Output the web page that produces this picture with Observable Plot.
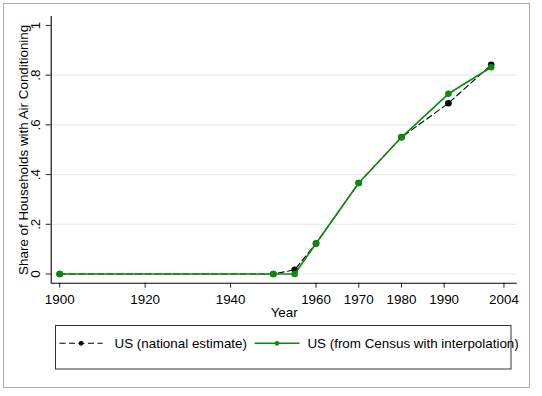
<!DOCTYPE html>
<html>
<head>
<meta charset="utf-8">
<script src="https://cdn.jsdelivr.net/npm/d3@7"></script>
<script src="https://cdn.jsdelivr.net/npm/@observablehq/plot@0.6"></script>
<style>
  html, body { margin: 0; padding: 0; background: #fff; }
  #wrap { position: relative; width: 542px; height: 396px; overflow: hidden; font-family: "Liberation Sans", Arial, Helvetica, sans-serif; }
  #border { position: absolute; left: 3px; top: 3px; width: 525px; height: 383px; border: 1.5px solid #aaaaaa; pointer-events: none; }
  #legend { position: absolute; left: 0; top: 320px; }
</style>
</head>
<body>
<div id="wrap">
  <div id="chart"></div>
  <div id="legend"></div>
  <div id="border"></div>
</div>
<script>
// ---- data ----
const natYears = [1900, 1950, 1955, 1960, 1970, 1980, 1991, 2001];
const natShare = [0, 0, 0.017, 0.123, 0.366, 0.55, 0.687, 0.842];
const cenYears = [1900, 1950, 1955, 1960, 1970, 1980, 1991, 2001];
const cenShare = [0, 0, 0, 0.123, 0.366, 0.55, 0.725, 0.832];
const xTicks = [1900, 1920, 1940, 1960, 1970, 1980, 1990, 2004];
const yTicks = [0, 0.2, 0.4, 0.6, 0.8, 1];
const yGrid = [0, 0.2, 0.4, 0.6, 0.8];
const seriesNames = ["US (national estimate)", "US (from Census with interpolation)"];
const xTitle = "Year";
const yTitle = "Share of Households with Air Conditioning";

const nat = natYears.map((y, i) => ({year: y, share: natShare[i]}));
const cen = cenYears.map((y, i) => ({year: y, share: cenShare[i]}));
const fmtY = d => d === 0 ? "0" : d === 1 ? "1" : String(d).replace(/^0/, "");

const FONT = "Liberation Sans, Arial, Helvetica, sans-serif";
const GREEN = "#0b8a0b";

const chart = Plot.plot({
  width: 542,
  height: 320,
  marginLeft: 50.7,
  marginRight: 25.3,
  marginTop: 16,
  marginBottom: 37.3,
  style: {fontFamily: FONT, fontSize: "13.4px", color: "#000", background: "transparent", overflow: "visible"},
  x: {domain: [1898, 2007.1]},
  y: {domain: [-0.037, 1.036]},
  marks: [
    Plot.ruleY(yGrid, {stroke: "#e4eef0", strokeWidth: 1.2}),
    Plot.axisX({ticks: xTicks, tickSize: 5, tickPadding: 6.5, tickFormat: d => String(d), label: null, fontSize: "13.4px", stroke: "#222"}),
    Plot.axisY({ticks: yTicks, tickSize: 5, tickFormat: () => "", label: null, stroke: "#222"}),
    Plot.text(yTicks, {y: d => d, text: fmtY, frameAnchor: "left", rotate: -90, dx: -11.2, lineAnchor: "bottom", textAnchor: "middle", fontSize: "13.4px", fill: "#000"}),
    Plot.text([yTitle], {text: d => d, frameAnchor: "left", rotate: -90, dx: -23.7, lineAnchor: "bottom", textAnchor: "middle", fontSize: "13.4px", fill: "#000"}),
    Plot.text([xTitle], {text: d => d, frameAnchor: "bottom", dy: 23.9, lineAnchor: "top", textAnchor: "middle", fontSize: "13.4px", fill: "#000"}),
    Plot.ruleY([-0.037], {stroke: "#000", strokeWidth: 1.1}),
    Plot.ruleX([1898], {stroke: "#000", strokeWidth: 1.1}),
    Plot.line(nat, {x: "year", y: "share", stroke: "#000", strokeWidth: 1.1, strokeDasharray: "6,3.5"}),
    Plot.dot(nat, {x: "year", y: "share", fill: "#000", r: 3.3}),
    Plot.line(cen, {x: "year", y: "share", stroke: GREEN, strokeWidth: 1.6}),
    Plot.dot(cen, {x: "year", y: "share", fill: GREEN, r: 3.3})
  ]
});
document.getElementById("chart").appendChild(chart);

// ---- legend ----
const lg = d3.select("#legend").append("svg")
  .attr("width", 542).attr("height", 76)
  .style("overflow", "visible")
  .style("font-family", FONT).style("font-size", "13.4px");
lg.append("rect").attr("x", 55.5).attr("y", 5.5).attr("width", 455.5).attr("height", 43.5)
  .attr("fill", "none").attr("stroke", "#333").attr("stroke-width", 1);
const items = [
  {name: seriesNames[0], color: "#000", dash: "6,3.5", x0: 59.5, x1: 102.7, tx: 114.5, w: 1.1},
  {name: seriesNames[1], color: GREEN, dash: null, x0: 254.6, x1: 299.5, tx: 307.4, w: 1.6}
];
const cy = 23.3;
items.forEach(it => {
  lg.append("line").attr("x1", it.x0).attr("x2", it.x1).attr("y1", cy).attr("y2", cy)
    .attr("stroke", it.color).attr("stroke-width", it.w).attr("stroke-dasharray", it.dash);
  lg.append("circle").attr("cx", (it.x0 + it.x1) / 2).attr("cy", cy).attr("r", 2.4).attr("fill", it.color);
  lg.append("text").attr("x", it.tx).attr("y", cy).attr("dy", "0.35em").attr("fill", "#000").text(it.name);
});
</script>
</body>
</html>
